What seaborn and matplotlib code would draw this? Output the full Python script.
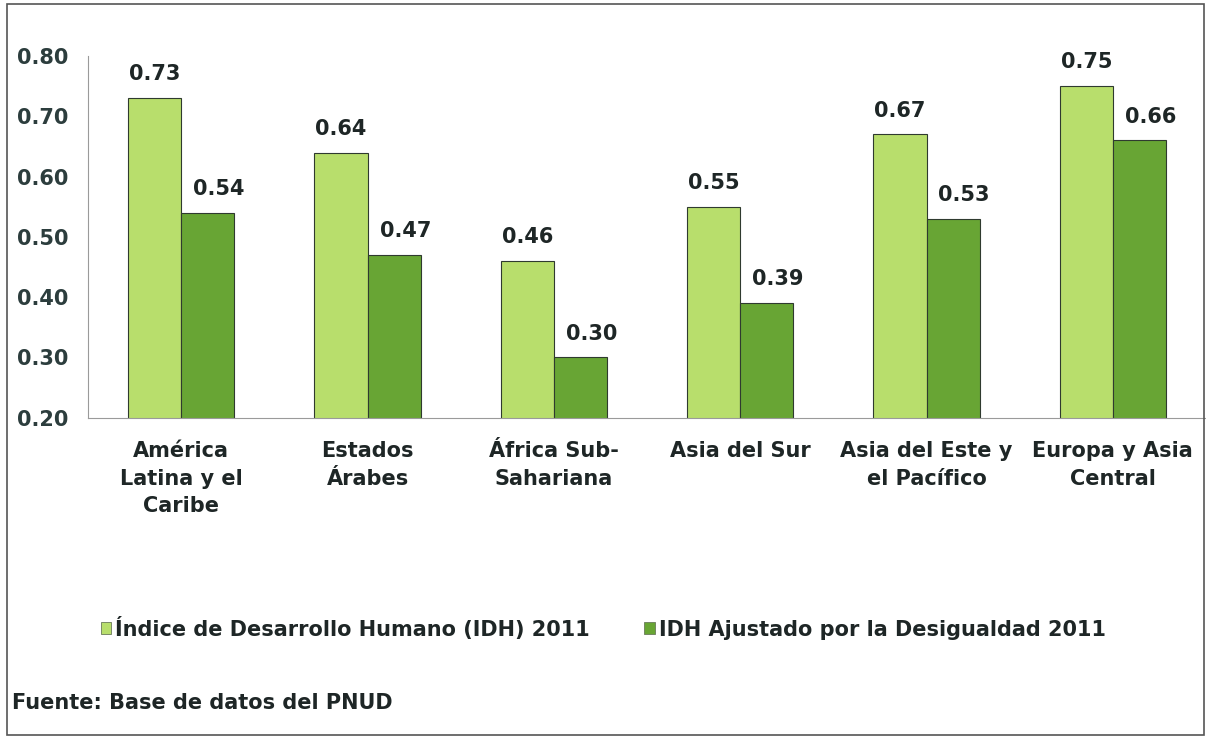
import numpy as np
import pandas as pd
import matplotlib
matplotlib.use("Agg")
import matplotlib.pyplot as plt
import seaborn as sns
from matplotlib.patches import Rectangle

# ─── data ────────────────────────────────────────────────────────────────────
regiones = ["América\nLatina y el\nCaribe", "Estados\nÁrabes", "África Sub-\nSahariana",
            "Asia del Sur", "Asia del Este y\nel Pacífico", "Europa y Asia\nCentral"]
idh = [0.73, 0.64, 0.46, 0.55, 0.67, 0.75]
idh_d = [0.54, 0.47, 0.30, 0.39, 0.53, 0.66]
series = ["Índice de Desarrollo Humano (IDH) 2011", "IDH Ajustado por la Desigualdad 2011"]
yticks = [0.20, 0.30, 0.40, 0.50, 0.60, 0.70, 0.80]

df = pd.DataFrame({
    "region": regiones * 2,
    "valor": idh + idh_d,
    "serie": [series[0]] * len(regiones) + [series[1]] * len(regiones),
})

LIGHT = "#b8de6c"
DARK = "#68a534"
TXT = "#1e2626"

sns.set_style("white")
plt.rcParams["font.family"] = ["DejaVu Sans"]
plt.rcParams["font.weight"] = "bold"
FS = 15

fig = plt.figure(figsize=(12.06, 7.38), dpi=100)
ax = fig.add_axes([0.073, 0.434, 0.927, 0.49])

sns.barplot(data=df, x="region", y="valor", hue="serie", palette=[LIGHT, DARK],
            saturation=1, width=0.57, edgecolor="#2f3a2f", linewidth=0.8,
            ax=ax, legend=False)

# value labels: light bars centred, dark bars nudged a little to the right
for cont, dx in zip(ax.containers, [0, 8]):
    for bar in cont:
        h = bar.get_height()
        ax.annotate(f"{h:.2f}", (bar.get_x() + bar.get_width() / 2, h),
                    xytext=(dx, 10), textcoords="offset points",
                    ha="center", va="bottom", fontsize=FS, fontweight="bold", color=TXT)

ax.set_ylim(0.2, 0.8)
ax.set_yticks(yticks)
ax.set_yticklabels([f"{t:.2f}" for t in yticks], fontsize=FS, fontweight="bold", color="#2c3d3d")
ax.tick_params(axis="y", direction="out", length=4, color="#999999", pad=10)
ax.tick_params(axis="x", which="major", length=0, pad=17)
ax.set_xticks(np.arange(0.5, 5.5, 1.0), minor=True)
ax.tick_params(axis="x", which="minor", direction="out", length=5, color="#999999")
for lab in ax.get_xticklabels():
    lab.set_fontsize(FS)
    lab.set_fontweight("bold")
    lab.set_color(TXT)
    lab.set_linespacing(1.45)
ax.set_xlabel("")
ax.set_ylabel("")
for s in ["top", "right"]:
    ax.spines[s].set_visible(False)
ax.spines["left"].set_color("#9a9a9a")
ax.spines["bottom"].set_color("#9a9a9a")
ax.set_xlim(-0.5, 5.5)

# legend
handles = [Rectangle((0, 0), 1, 1, facecolor=c, edgecolor="#6a7a5a", linewidth=0.6)
           for c in [LIGHT, DARK]]
fig.legend(handles, series, loc="center left", bbox_to_anchor=(0.068, 0.149), ncol=2,
           frameon=False, handlelength=0.5, handleheight=0.5, handletextpad=0.2,
           columnspacing=2.6, prop={"size": FS, "weight": "bold"}, labelcolor=TXT)

fig.text(0.010, 0.047, "Fuente: Base de datos del PNUD", fontsize=FS,
         fontweight="bold", color=TXT, va="center")

# outer frame of the scanned figure
fig.patches.append(Rectangle((0.006, 0.004), 0.992, 0.99, transform=fig.transFigure,
                             fill=False, edgecolor="#555555", linewidth=1.2))

fig.savefig("out.png", dpi=100)
